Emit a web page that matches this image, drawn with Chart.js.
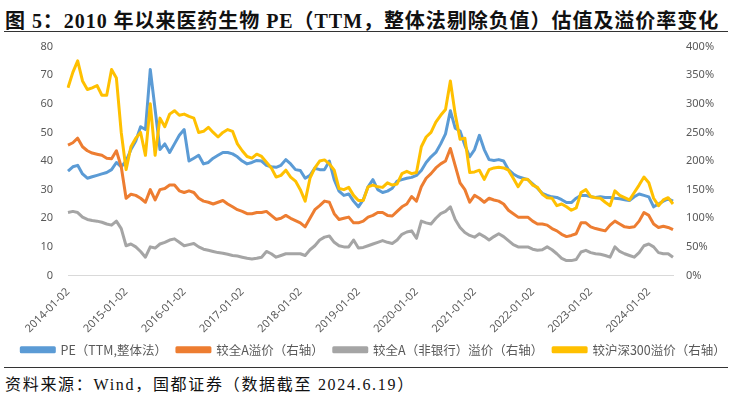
<!DOCTYPE html>
<html>
<head>
<meta charset="utf-8">
<script src="https://cdn.jsdelivr.net/npm/chart.js@4.4.1/dist/chart.umd.min.js"></script>
<style>
  body { margin: 0; background: #fff; width: 737px; height: 398px; position: relative; overflow: hidden; }
  #title { position: absolute; left: 5px; top: 5px; font: bold 20px "Liberation Serif", "Noto Sans CJK SC", serif; color: #111; white-space: nowrap; letter-spacing: 0.95px; }
  .rule { position: absolute; left: 4px; width: 724px; height: 0; border-top: 1.5px solid #333; }
  #box { position: absolute; left: 0; top: 25px; width: 737px; height: 341px; }
  #source { position: absolute; left: 5px; top: 371px; font: 16px "Liberation Serif", "Noto Sans CJK SC", serif; color: #111; white-space: nowrap; letter-spacing: 1.7px; }
</style>
</head>
<body>
<div id="title">图 5：2010 年以来医药生物 PE（TTM，整体法剔除负值）估值及溢价率变化</div>
<div class="rule" style="top:31px"></div>
<div id="box"><canvas id="valuationChart" width="737" height="341"></canvas></div>
<div class="rule" style="top:367px"></div>
<div id="source">资料来源：Wind，国都证券（数据截至 2024.6.19）</div>
<script>
// monthly points, 2014-01 .. 2024-06
let months = [];
for (let y = 2014; y <= 2024; y++) {
  for (let m = 1; m <= 12; m++) {
    if (y === 2024 && m > 6) break;
    months.push(y + "-" + String(m).padStart(2, "0") + "-02");
  }
}

// PE (TTM, overall method), left axis
let peTTM = [
  36.5, 38, 38.5, 35.5, 34, 34.5, 35, 35.5, 36, 37, 39.5, 38,
  40, 44, 47, 52, 51, 72, 58, 44, 46, 43, 46, 49,
  51, 40, 41, 42, 39, 39.5, 41, 42, 43, 43, 42.5, 41.5,
  40, 39, 39.5, 40.2, 40, 38.5, 38, 37.8, 38.5, 40.5, 39, 37,
  36.7, 34, 35, 37.5, 37, 37, 40, 33.5, 29.5, 28, 28.5, 26,
  24, 26.5, 31, 33.5, 30, 29, 29.5, 30.5, 33, 33.5, 34, 34.3,
  35, 36.7, 39.5, 41.5, 43, 46, 49.5, 57.6, 51.5, 50.5, 45.5, 41.5,
  44, 49, 44, 40.5, 40.2, 40.5, 40, 37, 35.5, 34.5, 34, 33.5,
  32, 30.5, 28.7, 28, 27.5, 27.3, 26.5, 25.5, 25.5, 27, 28, 28,
  27.5, 27.3, 27.5, 27.3, 27.3, 27, 26.8, 26.5, 26.2, 27.5, 28.5, 28,
  27.5, 24, 25, 26, 26.8, 26
];

// premium vs all A (%), right axis
let premiumAllA = [
  228, 232, 240, 225, 218, 214, 212, 210, 205, 204, 218, 190,
  135, 142, 140, 135, 128, 150, 132, 150, 152, 158, 158, 148,
  145, 148, 145, 135, 130, 128, 125, 128, 131, 125, 120, 115,
  112, 108, 108, 110, 110, 112, 105, 98, 100, 105, 100, 96,
  92, 85, 100, 115, 122, 130, 128, 108, 98, 100, 102, 92,
  92, 95, 102, 105, 110, 110, 105, 104, 112, 120, 125, 138,
  130, 155, 170, 178, 188, 195, 200, 222, 192, 162, 150, 128,
  140, 135, 128, 135, 132, 130, 125, 114, 108, 102, 102, 102,
  95, 90, 90, 88, 82, 78, 72, 68, 70, 73, 92, 92,
  85, 82, 80, 78, 88, 95, 90, 85, 84, 85, 95, 110,
  105, 90, 84, 86, 84, 80
];

// premium vs all A ex-banks (%), right axis
let premiumExBank = [
  110, 112, 110, 102, 98, 96, 95, 93, 90, 88, 95, 82,
  52, 55, 50, 42, 32, 50, 48, 55, 58, 62, 64, 58,
  52, 54, 56, 50, 46, 44, 42, 40, 39, 37, 35, 34,
  32, 30, 29, 30, 32, 42, 38, 32, 35, 38, 38, 38,
  38, 35, 45, 52, 62, 67, 69, 58, 52, 50, 50, 62,
  48, 49, 52, 55, 58, 61, 58, 56, 62, 72, 76, 78,
  65, 95, 92, 90, 100, 108, 112, 120, 98, 84, 75, 70,
  67, 73, 68, 62, 68, 73, 68, 61, 54, 50, 50, 50,
  46, 44, 45, 50, 45, 38, 30, 26, 26, 28, 41, 44,
  40, 38, 37, 35, 32, 50, 42, 38, 35, 32, 40, 52,
  55, 50, 40, 38, 38, 32
];

// premium vs CSI 300 (%), right axis
let premiumHS300 = [
  328, 355, 375, 340, 325, 328, 332, 315, 315, 360, 345, 250,
  185, 225, 240, 250, 210, 300, 210, 275, 260, 282, 288, 280,
  282, 278, 275, 250, 252, 259, 250, 242, 250, 255, 252, 230,
  218, 208, 205, 212, 208, 198, 188, 172, 175, 184, 172, 165,
  150, 130, 170, 188, 200, 202, 195, 184, 152, 150, 154, 140,
  131, 131, 155, 158, 155, 154, 162, 158, 160, 178, 182, 178,
  180, 225, 242, 250, 268, 280, 290, 340, 282, 238, 240, 180,
  181, 184, 168, 185, 188, 189, 188, 184, 170, 155, 168, 168,
  158, 154, 142, 136, 135, 122, 125, 120, 114, 118, 145, 150,
  138, 136, 135, 128, 122, 148, 140, 136, 132, 145, 158, 172,
  162, 135, 122, 132, 136, 125
];

let seriesNames = ["PE（TTM,整体法）", "较全A溢价（右轴）", "较全A（非银行）溢价（右轴）", "较沪深300溢价（右轴）"];
let leftTicks = [0, 10, 20, 30, 40, 50, 60, 70, 80];
let rightTicks = [0, 50, 100, 150, 200, 250, 300, 350, 400];

let tickFont = { family: "'Noto Sans', 'Noto Sans CJK SC', sans-serif", size: 11 };

let ctx = document.getElementById("valuationChart").getContext("2d");
let valuationChart = new Chart(ctx, {
  type: "line",
  data: {
    labels: months,
    datasets: [
      { label: seriesNames[0], data: peTTM, yAxisID: "yLeft", borderColor: "#5B9BD5", backgroundColor: "#5B9BD5", order: 4 },
      { label: seriesNames[1], data: premiumAllA, yAxisID: "yRight", borderColor: "#ED7D31", backgroundColor: "#ED7D31", order: 3 },
      { label: seriesNames[2], data: premiumExBank, yAxisID: "yRight", borderColor: "#A5A5A5", backgroundColor: "#A5A5A5", order: 2 },
      { label: seriesNames[3], data: premiumHS300, yAxisID: "yRight", borderColor: "#FFC000", backgroundColor: "#FFC000", order: 1 },
    ],
  },
  options: {
    responsive: false,
    animation: false,
    devicePixelRatio: 1,
    layout: { padding: { top: 4, left: 10, right: 0, bottom: 0 } },
    elements: {
      point: { radius: 0 },
      line: { borderWidth: 3, tension: 0, borderJoinStyle: "round" },
    },
    plugins: {
      tooltip: { enabled: false },
      legend: {
        position: "bottom",
        labels: {
          boxWidth: 33,
          boxHeight: 4,
          padding: 10,
          color: "#595959",
          font: { family: "'Noto Sans CJK SC', sans-serif", size: 12.5 },
          sort: (a, b) => a.datasetIndex - b.datasetIndex,
        },
      },
    },
    scales: {
      x: {
        grid: { display: false },
        border: { color: "#D9D9D9", width: 1 },
        afterFit: (scale) => { scale.height = 58; },
        ticks: {
          autoSkip: false,
          minRotation: 45,
          maxRotation: 45,
          color: "#595959",
          font: tickFont,
          padding: 2,
          callback: (v, i) => (i % 12 === 0 ? months[i] : null),
        },
      },
      yLeft: {
        position: "left",
        min: 0,
        max: 80,
        grid: { display: false, drawTicks: false },
        border: { display: false },
        afterFit: (scale) => { scale.width = 58; },
        afterBuildTicks: (scale) => { scale.ticks = leftTicks.map((v) => ({ value: v })); },
        ticks: { color: "#595959", font: tickFont, padding: 15 },
      },
      yRight: {
        position: "right",
        min: 0,
        max: 400,
        grid: { display: false, drawTicks: false },
        border: { display: false },
        afterFit: (scale) => { scale.width = 64; },
        afterBuildTicks: (scale) => { scale.ticks = rightTicks.map((v) => ({ value: v })); },
        ticks: { color: "#595959", font: tickFont, padding: 13, callback: (v) => v + "%" },
      },
    },
  },
});
</script>
</body>
</html>
